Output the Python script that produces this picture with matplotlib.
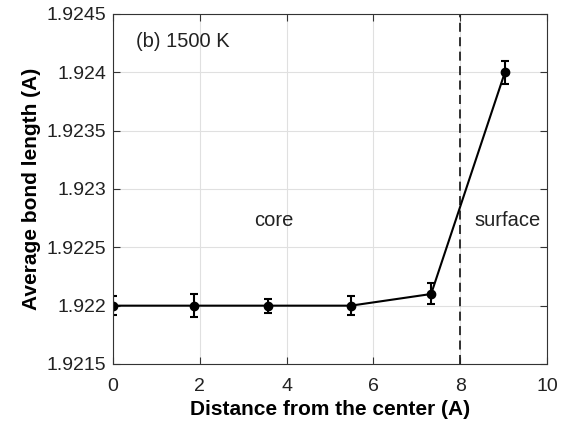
import matplotlib.pyplot as plt
import numpy as np

# distances from the center and average bond lengths at 1500 K
distance = [0.0, 1.87, 3.57, 5.48, 7.33, 9.03]
bond_length = [1.9220, 1.9220, 1.9220, 1.9220, 1.9221, 1.9240]
bond_err = [0.00008, 0.00010, 0.00006, 0.00008, 0.00009, 0.00010]

x_ticks = [0, 2, 4, 6, 8, 10]
y_ticks = [1.9215, 1.922, 1.9225, 1.923, 1.9235, 1.924, 1.9245]
y_labels = ['1.9215', '1.922', '1.9225', '1.923', '1.9235', '1.924', '1.9245']

plt.rcParams['font.family'] = ['Liberation Sans', 'DejaVu Sans']

fig = plt.figure(figsize=(5.68, 4.26), dpi=100)
ax = fig.add_axes([113 / 568, 1 - 364 / 426, 434 / 568, 350 / 426])

ax.errorbar(distance, bond_length, yerr=bond_err, color='black', marker='o',
            markersize=6, linewidth=1.5, elinewidth=1.5, capsize=3, capthick=1.5)
ax.axvline(8, color='#222222', linestyle='--', linewidth=1.3, dashes=(5, 3))

ax.text(0.53, 1.92426, '(b) 1500 K', fontsize=14.5, va='center', color='#222222')
ax.text(3.70, 1.92273, 'core', fontsize=14.5, ha='center', va='center', color='#222222')
ax.text(9.08, 1.92273, 'surface', fontsize=14.5, ha='center', va='center', color='#222222')

ax.set_xlim(0, 10)
ax.set_ylim(1.9215, 1.9245)
ax.set_xticks(x_ticks)
ax.set_yticks(y_ticks)
ax.set_yticklabels(y_labels)
ax.grid(True, color='#e0e0e0', linewidth=0.8)
ax.set_axisbelow(True)
ax.tick_params(direction='in', top=True, right=True, labelsize=14, length=5,
               color='#333333', labelcolor='#222222', pad=5)
ax.tick_params(axis='x', pad=10)
for s in ax.spines.values():
    s.set_color('#333333')
    s.set_linewidth(0.8)

ax.set_xlabel('Distance from the center (A)', fontsize=15, fontweight='bold',
              labelpad=4)
ax.set_ylabel('Average bond length (A)', fontsize=15, fontweight='bold',
              labelpad=4)

fig.savefig('out.png', dpi=100)
